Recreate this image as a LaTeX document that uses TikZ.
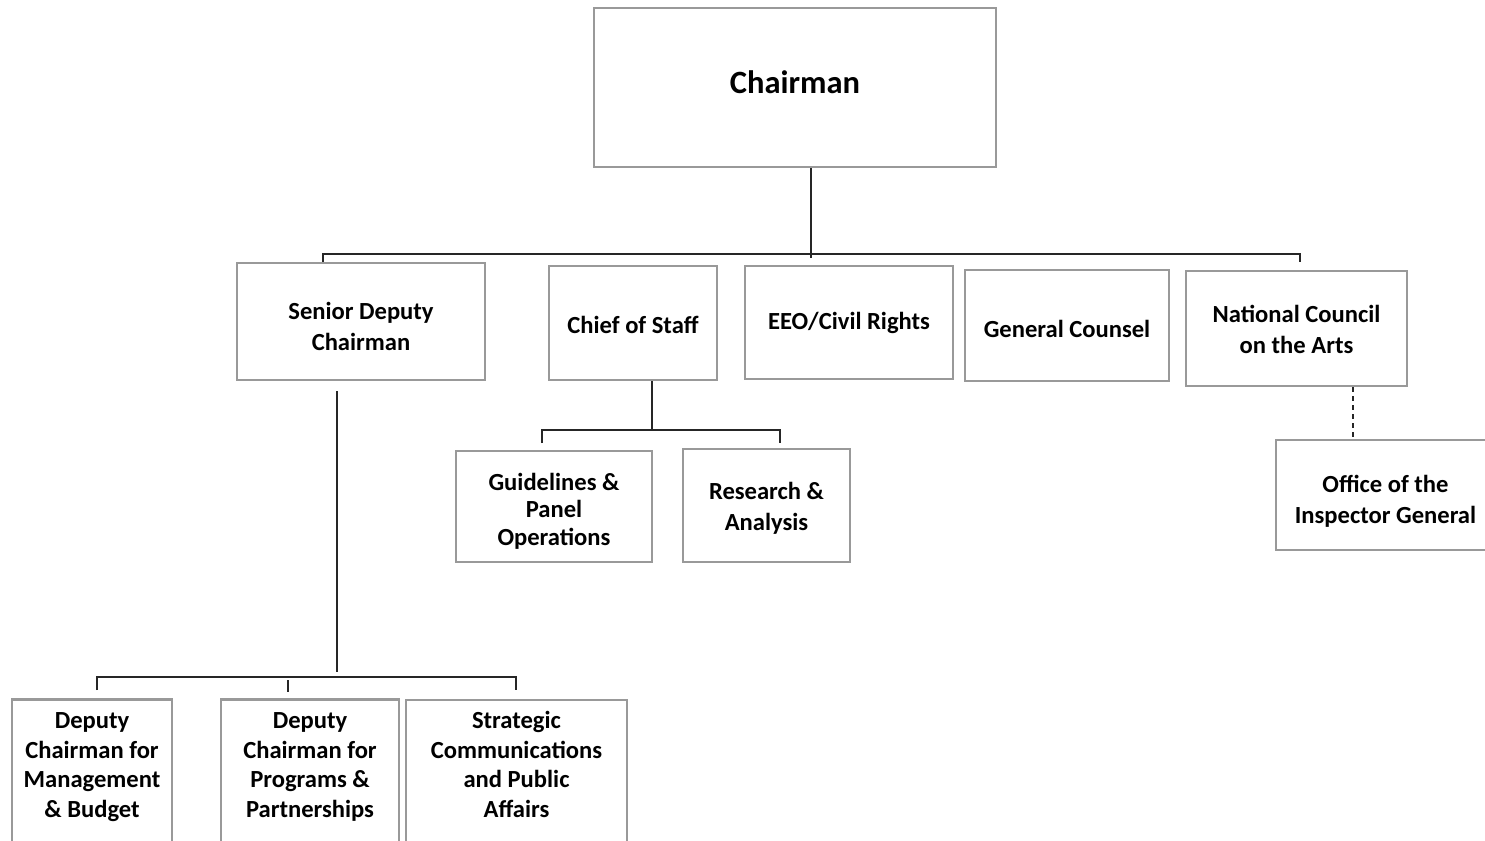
\documentclass[tikz,border=0pt]{standalone}
\usepackage{fontspec}
\setmainfont{Carlito}
\usetikzlibrary{
    positioning,
    calc,
}

% text block of a box, raised by #1 inside the box
\newcommand\unitlines[2][0pt]{\raisebox{0pt}[\dimexpr\height-#1\relax][\dimexpr\depth+#1\relax]{\begin{tabular}{@{}c@{}}#2\end{tabular}}}

\begin{document}
\begin{tikzpicture}[
    x=0.02cm, y=-0.02cm,
    unit/.style={draw=black!40, line width=1.2pt, fill=white, align=center, inner sep=0pt,
        font=\bfseries\fontsize{14}{17.5}\selectfont},
    lower/.style={unit, font=\bfseries\fontsize{14}{16.8}\selectfont},
    chief/.style={unit, font=\bfseries\fontsize{18.5}{22}\selectfont},
    link/.style={draw=black!85, line width=0.6pt},
    dotted link/.style={link, line width=1.3pt, dash pattern=on 0.1cm off 0.08cm},
]
\useasboundingbox (0,0) rectangle (1485,841);
\clip (0,0) rectangle (1485,841);
\fill[white] (0,0) rectangle (1485,841);

% top level
\node[chief, minimum width=8.04cm, minimum height=3.18cm] (chair) at (795,87.5) {\unitlines[0.04cm]{Chairman}};

\node[unit, minimum width=4.96cm, minimum height=2.34cm] (senior) at (361,321.5) {\unitlines[-0.14cm]{Senior Deputy\\Chairman}};
\node[unit, minimum width=3.36cm, minimum height=2.28cm] (staff) at (633,323) {\unitlines[-0.08cm]{Chief of Staff}};
\node[unit, minimum width=4.16cm, minimum height=2.26cm] (eeo) at (849,322.5) {EEO/Civil Rights};
\node[unit, minimum width=4.08cm, minimum height=2.22cm] (counsel) at (1067,325.5) {\unitlines[-0.12cm]{General Counsel}};
\node[unit, minimum width=4.42cm, minimum height=2.30cm] (council) at (1296.5,328.5) {\unitlines[-0.06cm]{National Council\\on the Arts}};

% under chief of staff
\node[unit, minimum width=3.92cm, minimum height=2.22cm, font=\bfseries\fontsize{14}{15.6}\selectfont] (guide) at (554,506.5) {\unitlines[-0.12cm]{Guidelines \&\\Panel\\Operations}};
\node[unit, minimum width=3.34cm, minimum height=2.26cm] (research) at (766.5,505.5) {\unitlines[-0.06cm]{Research \&\\Analysis}};

% under the council
\node[unit, minimum width=4.38cm, minimum height=2.20cm] (oig) at (1385.5,495) {\unitlines[-0.14cm]{Office of the\\Inspector General}};

% under senior deputy
\node[lower, minimum width=3.20cm, minimum height=3.02cm] (budget) at (92,775) {\unitlines[0.16cm]{Deputy\\Chairman for\\Management\\\& Budget}};
\node[lower, minimum width=3.56cm, minimum height=3.02cm] (programs) at (310,775) {\unitlines[0.16cm]{Deputy\\Chairman for\\Programs \&\\Partnerships}};
\node[lower, minimum width=4.42cm, minimum height=3.00cm] (affairs) at (516.5,775) {\unitlines[0.16cm]{Strategic\\Communications\\and Public\\Affairs}};

% bus lines
\coordinate (topM) at (811,254);
\coordinate (topL) at (323,254);
\coordinate (topR) at (1300,254);
\coordinate (staffM) at (652,430);
\coordinate (staffL) at (542,430);
\coordinate (staffR) at (780,430);
\coordinate (seniorM) at (337,677);
\coordinate (seniorL) at (97,677);
\coordinate (seniorC) at (288,677);
\coordinate (seniorR) at (516,677);
\coordinate (oigM) at (1353,0);

\draw[link] (chair.south -| topM) -- ($(topM)+(0,4)$);
\draw[link] ($(topL)+(0,8)$) -- (topL) -- (topR) -- ($(topR)+(0,8)$);

\draw[link] (staff.south -| staffM) -- (staffM);
\draw[link] ($(staffL)+(0,13)$) -- (staffL) -- (staffR) -- ($(staffR)+(0,13)$);

\draw[link, shorten <=0.2cm] (senior.south -| seniorM) -- ($(seniorM)+(0,-5)$);
\draw[link] ($(seniorL)+(0,13)$) -- (seniorL) -- (seniorR) -- ($(seniorR)+(0,13)$);
\draw[link] ($(seniorC)+(0,3)$) -- ($(seniorC)+(0,15)$);

\draw[dotted link] (council.south -| oigM) -- (oig.north -| oigM);

\end{tikzpicture}
\end{document}
